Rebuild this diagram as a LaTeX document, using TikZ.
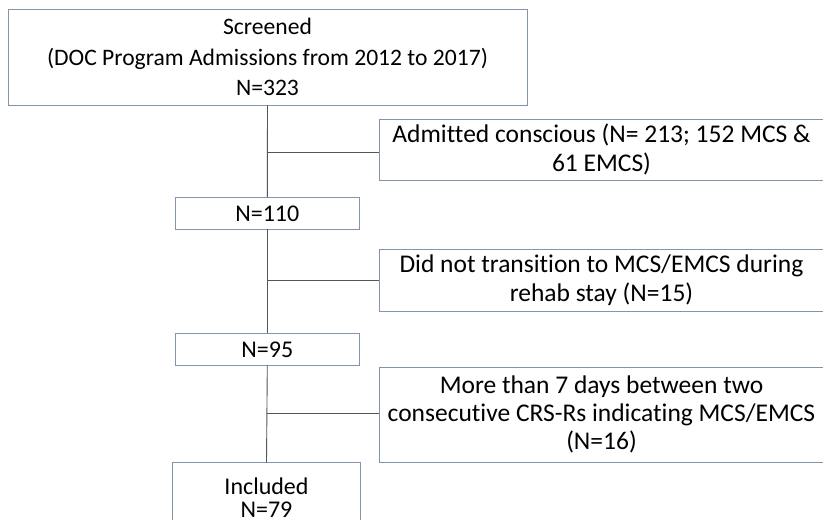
\documentclass[tikz,border=0pt]{standalone}
\usepackage{fontspec}
\setmainfont{Carlito}[Ligatures=NoCommon]
\tikzset{
  box/.style={draw=boxline, line width=0.9pt, fill=white, inner sep=0pt, align=center, font=\fontsize{25.5}{29.5}\selectfont},
  conn/.style={draw=connline, line width=0.9pt},
  lbl/.style={inner sep=0pt, anchor=base, font=\fontsize{24}{28}\selectfont}
}
\definecolor{boxline}{HTML}{8494AC}
\definecolor{connline}{HTML}{555555}
\begin{document}
\begin{tikzpicture}[x=1pt,y=-1pt]
\useasboundingbox (0,0) rectangle (823,520);
\clip (0,0) rectangle (823,520);
\fill[white] (0,0) rectangle (823,520);
\node[box, minimum width=519pt, minimum height=96pt, font=\fontsize{23.6}{30.5}\selectfont] (scr) at (267.5,57) {Screened\\(DOC Program Admissions from 2012 to 2017)\\N=323};
\node[box, minimum width=445pt, minimum height=61pt] (adm) at (601.5,149.5) {Admitted conscious (N= 213; 152 MCS \&\\61 EMCS)};
\node[box, minimum width=184.4pt, minimum height=31.3pt, font=\fontsize{24}{28}\selectfont] (n110) at (267.3,213.3) {N=110};
\node[box, minimum width=445pt, minimum height=62pt] (dnt) at (601.5,280.3) {Did not transition to MCS/EMCS during\\rehab stay (N=15)};
\node[box, minimum width=184.4pt, minimum height=31.3pt, font=\fontsize{24}{28}\selectfont] (n95) at (267.3,349.3) {N=95};
\node[box, minimum width=445pt, minimum height=95pt, font=\fontsize{25.5}{28.3}\selectfont] (more) at (601.5,414.5) {More than 7 days between two\\consecutive CRS-Rs indicating MCS/EMCS\\(N=16)};
\node[box, minimum width=187.6pt, minimum height=79pt] (inc) at (266.5,502.2) {};
\node[lbl] (inc1) at (266.5,494) {Included};
\node[lbl] (inc2) at (266.5,517.5) {N=79};
\coordinate (j1) at (267.3,152);
\coordinate (j2) at (267.3,280.3);
\coordinate (j3) at (267.3,413.7);
\draw[conn] (scr.south) -- (n110.north);
\draw[conn] (n110.south) -- (n95.north);
\draw[conn] (n95.south) -- (inc.north);
\draw[conn] (j1) -- (j1 -| adm.west);
\draw[conn] (j2) -- (j2 -| dnt.west);
\draw[conn] (j3) -- (j3 -| more.west);
\end{tikzpicture}
\end{document}
